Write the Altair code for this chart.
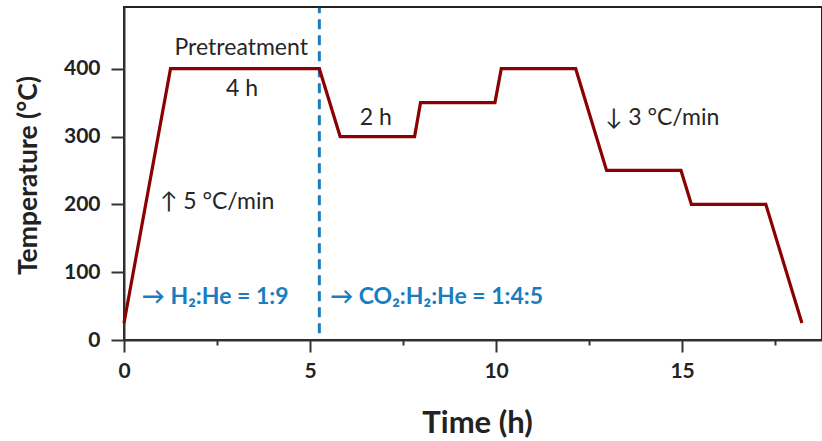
import altair as alt
import pandas as pd

# Temperature programme: breakpoints of the heating / dwell / cooling profile
time_h = [0, 1.25, 5.25, 5.81, 7.81, 7.97, 9.97, 10.14, 12.14, 12.97, 14.97, 15.25, 17.25, 18.22]
temp_c = [25, 400, 400, 300, 300, 350, 350, 400, 400, 250, 250, 200, 200, 25]

# Gas switch from pretreatment to reaction feed
switch_time = [5.25, 5.25]
switch_temp = [10, 490]

# Annotations (text, x, y, align)
note_text = ["Pretreatment", "4 h", "2 h", "↑ 5 °C/min", "↓ 3 °C/min"]
note_x = [3.15, 3.17, 6.77, 0.97, 12.93]
note_y = [430, 370, 328, 204, 328]
note_align = ["center", "center", "center", "left", "left"]

gas_text = ["→ H₂:He = 1:9", "→ CO₂:H₂:He = 1:4:5"]
gas_x = [0.48, 5.54]
gas_y = [63, 63]

FONT = "Lato"
INK = "#262626"
BLUE = "#1a7dc0"
RED = "#8b0000"

profile = pd.DataFrame({"t": time_h, "T": temp_c})
switch = pd.DataFrame({"t": switch_time, "T": switch_temp})
notes = pd.DataFrame({"label": note_text, "t": note_x, "T": note_y, "align": note_align})
gas = pd.DataFrame({"label": gas_text, "t": gas_x, "T": gas_y})

x_scale = alt.Scale(domain=[0, 18.76], nice=False, zero=False)
y_scale = alt.Scale(domain=[0, 491], nice=False)

x_axis = alt.Axis(
    values=[0, 2.5, 5, 7.5, 10, 12.5, 15, 17.5],
    labelExpr="datum.value % 5 === 0 ? datum.label : ''",
    tickSize={"condition": {"test": "datum.value % 5 === 0", "value": 12}, "value": 5},
    labelPadding=8,
    labelFlush=False,
    title="Time (h)",
    titleX=353,
    titleY=83,
    titleAlign="center",
    titleBaseline="middle",
    titleFontSize=31,
    grid=False,
)
y_axis = alt.Axis(
    values=[0, 50, 100, 150, 200, 250, 300, 350, 400, 450],
    labelExpr="datum.value % 100 === 0 ? datum.label : ''",
    tickSize={"condition": {"test": "datum.value % 100 === 0", "value": 13}, "value": 6},
    labelPadding=11,
    labelFlush=False,
    title="Temperature (°C)",
    titleX=-96,
    titleY=168,
    titleAngle=-90,
    titleAlign="center",
    titleBaseline="middle",
    titleFontSize=26.5,
    grid=False,
)

line = alt.Chart(profile).mark_line(color=RED, strokeWidth=3.2).encode(
    x=alt.X("t:Q", scale=x_scale, axis=x_axis),
    y=alt.Y("T:Q", scale=y_scale, axis=y_axis),
    order="t:Q",
)

switch_line = alt.Chart(switch).mark_line(
    color=BLUE, strokeWidth=3, strokeDash=[10, 6]
).encode(x="t:Q", y="T:Q")

notes_center = alt.Chart(notes[notes["align"] == "center"]).mark_text(
    font=FONT, fontSize=23, color=INK, baseline="middle", align="center"
).encode(x="t:Q", y="T:Q", text="label:N")

notes_left = alt.Chart(notes[notes["align"] == "left"]).mark_text(
    font=FONT, fontSize=23, color=INK, baseline="middle", align="left"
).encode(x="t:Q", y="T:Q", text="label:N")

gas_layer = alt.Chart(gas).mark_text(
    font=FONT, fontSize=23, fontWeight="bold", color=BLUE, baseline="middle", align="left"
).encode(x="t:Q", y="T:Q", text="label:N")

chart = (
    alt.layer(switch_line, line, notes_center, notes_left, gas_layer)
    .properties(
        width=698,
        height=333,
        autosize=alt.AutoSizeParams(type="none"),
        padding={"left": 124, "top": 7, "right": 0, "bottom": 101},
    )
    .configure_view(stroke="#222222", strokeWidth=2)
    .configure_axis(
        domainColor="#333333",
        domainWidth=2,
        tickColor="#333333",
        tickWidth=2,
        labelFont=FONT,
        labelFontSize=21,
        labelFontWeight="bold",
        labelColor="#222222",
        titleFont=FONT,
        titleFontWeight="bold",
        titleColor="#222222",
    )
)

chart.save("out.html", embed_options={"renderer": "svg", "actions": False})
